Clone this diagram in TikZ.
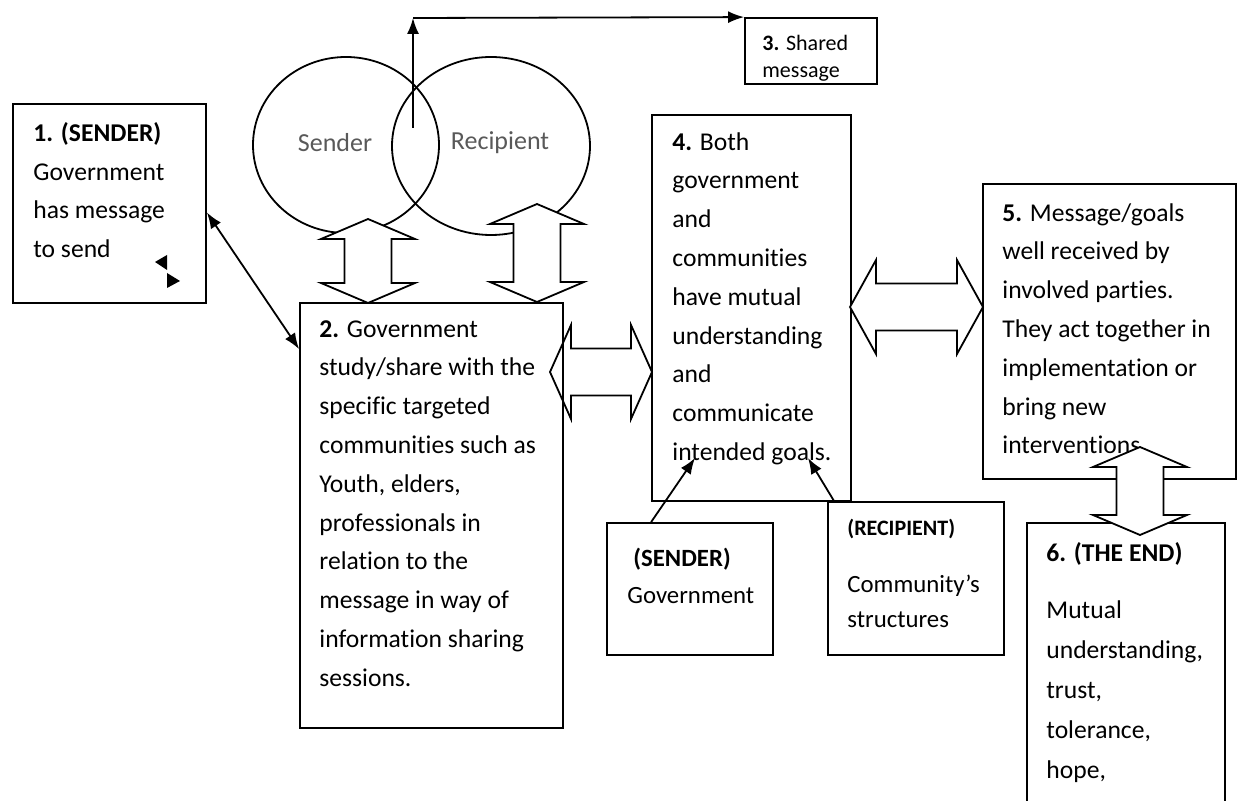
\documentclass[tikz,border=0pt]{standalone}
\usepackage{fontspec}
\setmainfont{Carlito}[Ligatures={NoCommon,NoContextual}]
\usetikzlibrary{arrows.meta,shapes.geometric,fit}

% hollow block arrows (x, top tip, bottom tip) and (y, left tip, right tip, head length)
\newcommand{\blockV}[3]{%
  \draw[block] (#1,#2) -- ++(47,20) -- ++(-23.5,0) -- (#1+23.5,#3-20) -- ++(23.5,0)
    -- (#1,#3) -- ++(-47,-20) -- ++(23.5,0) -- (#1-23.5,#2+20) -- ++(-23.5,0) -- cycle;}
\newcommand{\blockH}[4]{%
  \draw[block] (#2,#1) -- ++(#4,-47) -- ++(0,23.5) -- (#3-#4,#1-23.5) -- ++(0,-23.5)
    -- (#3,#1) -- ++(-#4,47) -- ++(0,-23.5) -- (#2+#4,#1+23.5) -- ++(0,23.5) -- cycle;}

\tikzset{
  box/.style={draw, line width=0.9pt, inner sep=0pt},
  block/.style={draw, fill=white, line width=0.9pt},
  txt/.style={anchor=north west, align=left, inner sep=0pt,
    font=\fontsize{12.8}{19.4}\selectfont, execute at begin node=\strut},
  arr/.style={line width=0.9pt, -{Latex[length=8pt,width=6pt]}},
}

\begin{document}
\begin{tikzpicture}[x=0.5pt, y=-0.5pt]
  \useasboundingbox (0,0) rectangle (1238,801);

  % the two circles
  \node[ellipse, draw, line width=0.9pt, minimum width=93pt, minimum height=88pt, inner sep=0pt] (cs) at (346,145) {};
  \node[ellipse, draw, line width=0.9pt, minimum width=99pt, minimum height=89pt, inner sep=0pt] (cr) at (491,146) {};
  \node[font=\fontsize{13}{15}\selectfont, text=black!65] (ls) at (335,143) {Sender};
  \node[font=\fontsize{13}{15}\selectfont, text=black!65] (lr) at (500,143) {Recipient};

  \blockH{372}{550}{652}{21}

  % boxes
  \node[box, fit={(13,104) (206,303)}] (b1) {};
  \node[box, fit={(300,303) (563,728)}] (b2) {};
  \node[box, fit={(745,18) (877,84)}] (b3) {};
  \node[box, fit={(652,115) (851,501)}] (b4) {};
  \node[box, fit={(983,184) (1236,479)}] (b5) {};
  \node[box, fit={(1027,523) (1225,830)}] (b6) {};
  \node[box, fit={(607,523) (773,655)}] (sb) {};
  \node[box, fit={(828,502) (1004,655)}] (rb) {};

  \node[txt] (t1) at (33,122) {\textbf{1. (SENDER)}\\Government\\has message\\to send};
  \node[txt] (t2) at (319,320) {\textbf{2.} Government\\study/share with the\\specific targeted\\communities such as\\Youth, elders,\\professionals in\\relation to the\\message in way of\\information sharing\\sessions.};
  \node[txt, font=\fontsize{11}{13.5}\selectfont] (t3) at (762,35) {\textbf{3.} Shared\\message};
  \node[txt] (t4) at (672,132) {\textbf{4.} Both\\government\\and\\communities\\have mutual\\understanding\\and\\communicate\\intended goals.};
  \node[txt] (t5) at (1002,203) {\textbf{5.} Message/goals\\well received by\\involved parties.\\They act together in\\implementation or\\bring new\\interventions.};
  \node[txt, font=\fontsize{12.8}{20}\selectfont] (t6) at (1046,542) {\textbf{6. (THE END)}\\[8.5pt]Mutual\\understanding,\\trust,\\tolerance,\\hope,};
  \node[txt, font=\fontsize{12.4}{18.5}\selectfont] (ts) at (627,548) {\hspace*{3pt}\textbf{(SENDER)}\\Government};
  \node[txt, font=\fontsize{12.4}{17.5}\selectfont] (tr) at (847,519) {{\fontsize{11}{17.5}\selectfont\textbf{(RECIPIENT)}}\\[11pt]Community’s\\structures};

  % small marks in box 1
  \fill (155,262) -- (167,255) -- (167,270) -- cycle;
  \fill (180,281) -- (167,273) -- (167,288) -- cycle;

  % block arrows
  \blockV{368}{219}{303}
  \blockV{537}{204}{302}
  \blockH{307}{850}{983}{26}
  \blockV{1140}{447}{535}

  % connectors
  \coordinate (ov) at (413,128);
  \coordinate (up) at (413,18);
  \draw[arr] (ov) -- (up);
  \draw[arr] (up) -- (b3.north west);
  \draw[line width=0.9pt, {Latex[length=8pt,width=6pt]}-{Latex[length=8pt,width=6pt]}] ([yshift=-4.5pt]b1.east) -- ([yshift=-23.5pt]b2.north west);
  \coordinate (g1) at (695,458);
  \coordinate (g2) at (808,458);
  \draw[arr] ([xshift=22.5pt]sb.north west) -- (g1);
  \draw[arr] ([xshift=3.5pt]rb.north west) -- (g2);
\end{tikzpicture}
\end{document}
